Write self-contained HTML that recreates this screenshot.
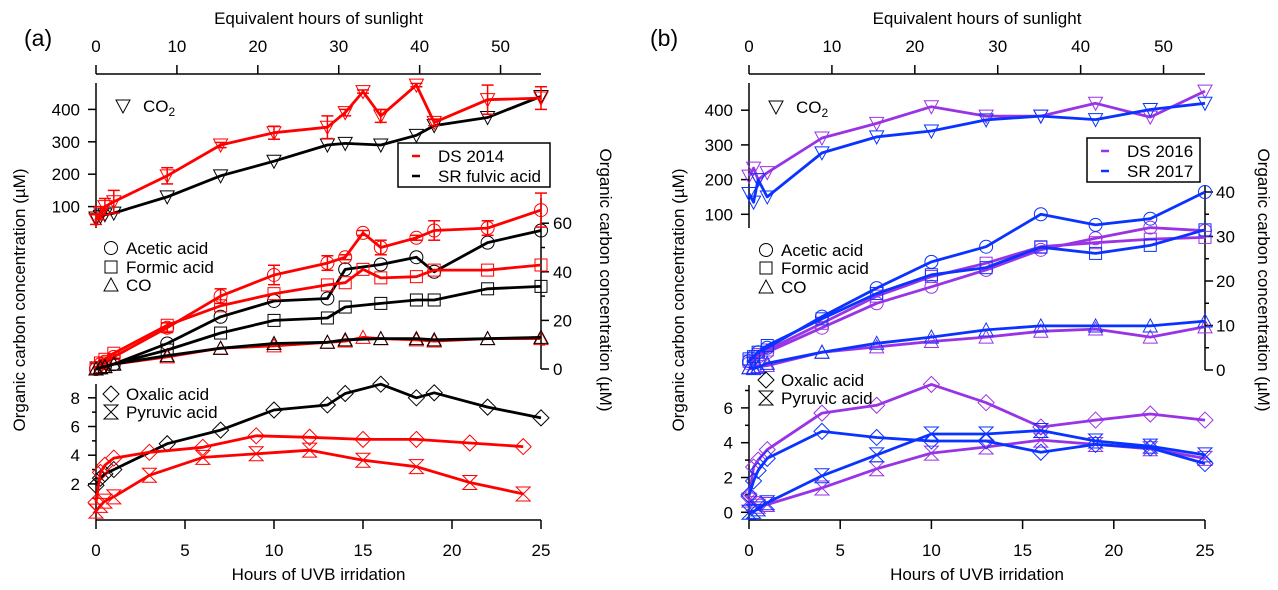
<!DOCTYPE html>
<html><head><meta charset="utf-8"><style>
body{margin:0;background:#fff;}
svg{display:block;font-family:"Liberation Sans",Arial,sans-serif;}
</style></head><body>
<svg id="chart" width="1278" height="590" viewBox="0 0 1278 590" xmlns="http://www.w3.org/2000/svg"></svg>
<script>
// ---------- data: panel (a) ----------
const hoursA = [0,0.25,0.5,1,4,7,10,13,14,15,16,18,19,22,25];
const co2DS2014 = [60,80,100,115,195,290,328,345,390,455,380,475,360,430,435];
const co2DS2014Err = [15,20,25,35,25,8,20,35,10,5,20,5,10,45,35];
const hoursAblk = [0,0.25,0.5,1,4,7,10,13,14,16,18,19,22,25];
const co2SR = [65,70,75,80,130,195,240,290,295,290,320,350,375,440];
const aceticDS2014 = [0,2,3,5,17,30,38.7,43.6,46,56,50,54,57,58,65.4];
const aceticDS2014Err = [0,1,1,1,2,3,4,3,1,1,3,1,4,3,7];
const formicDS2014 = [0.5,2.5,4,6.5,18,26,31,34.6,35.5,41,37.5,38,40.7,40.7,42.8];
const coDS2014 = [0,0.5,1,2,5,8.6,9.5,11,11.5,13,12.5,12,11.5,12.5,12.5];
const aceticSR = [0,0.5,1,2,10.5,21.5,28,29,41,43,46,40,52,57];
const formicSR = [0,0.5,1,2,7.8,14.8,20,21,25.5,27,28.4,28.4,33,34];
const coSR = [0,0.5,1,2,5.5,8.5,10.5,11,12,12.5,12.5,12,12.5,13];
const oxalicSR = [1.9,2.4,2.7,3.0,4.8,5.75,7.15,7.5,8.3,8.95,8.0,8.35,7.35,6.6];
const hoursArd = [0,0.25,0.5,1,3,6,9,12,15,18,21,24];
const oxalicDS2014 = [0.7,2.8,3.3,3.8,4.2,4.55,5.35,5.25,5.1,5.1,4.85,4.6];
const pyruvicDS2014 = [0.1,0.5,0.8,1.1,2.6,3.85,4.1,4.35,3.65,3.2,2.1,1.3];
// ---------- data: panel (b) ----------
const hoursB = [0,0.25,0.5,1,4,7,10,13,16,19,22,25];
const co2DS2016 = [210,233,200,220,320,362,410,383,383,420,380,455];
const co2SR2017 = [160,135,200,150,277,323,340,372,383,373,402,420];
const aceticSR2017 = [2,3,4,5,12,18.4,24.3,27.7,35,32.6,34,40];
const aceticDS2016 = [1.5,2,3,4,9.5,15,18.7,22.5,27,29.6,32,31.3];
const formicSR2017 = [2.5,3,4,5.5,11.5,17.2,21.4,23,27.6,26.2,28,31.5];
const formicDS2016 = [2,2.5,3.5,4.5,10.5,16.6,21,24,27.7,28.6,29.4,29.8];
const coSR2017 = [0.5,0.3,0.6,1.5,4,6,7.4,9,9.9,9.9,9.9,11];
const coDS2016 = [0.5,0.6,0.8,1,4,5.2,6.4,7.4,8.7,9.2,7.4,9.7];
const oxalicDS2016 = [0.9,2.6,3.0,3.6,5.7,6.15,7.35,6.3,4.9,5.3,5.65,5.3];
const oxalicSR2017 = [1.0,1.8,2.4,3.1,4.65,4.3,4.1,4.1,3.45,3.9,3.7,2.8];
const pyruvicSR2017 = [0,0.05,0.2,0.55,2.1,3.3,4.5,4.5,4.7,4.1,3.8,3.3];
const pyruvicDS2016 = [0.7,0.5,0.35,0.45,1.4,2.5,3.4,3.75,4.15,3.9,3.65,3.1];

const NS="http://www.w3.org/2000/svg";
const svg=document.getElementById('chart');
const FS=17;
function mk(tag,attrs,parent){const e=document.createElementNS(NS,tag);for(const k in attrs)e.setAttribute(k,attrs[k]);(parent||svg).appendChild(e);return e;}
function txt(x,y,s,opts,parent){const t=mk('text',Object.assign({x:x,y:y,'font-size':FS,fill:'#000'},opts||{}),parent);t.textContent=s;return t;}

function marker(g,type,x,y,col){
  let e;
  if(type==='circle'){e=mk('circle',{cx:x,cy:y,r:6.5,fill:'none',stroke:col,'stroke-width':1},g);}
  else if(type==='square'){e=mk('rect',{x:x-6,y:y-6,width:12,height:12,fill:'none',stroke:col,'stroke-width':1},g);}
  else if(type==='up'){e=mk('polygon',{points:`${x},${y-7} ${x-7},${y+6} ${x+7},${y+6}`,fill:'none',stroke:col,'stroke-width':1},g);}
  else if(type==='down'){e=mk('polygon',{points:`${x},${y+7} ${x-7},${y-6} ${x+7},${y-6}`,fill:'none',stroke:col,'stroke-width':1},g);}
  else if(type==='diamond'){e=mk('polygon',{points:`${x},${y-8} ${x+8},${y} ${x},${y+8} ${x-8},${y}`,fill:'none',stroke:col,'stroke-width':1},g);}
  else {e=mk('polygon',{points:`${x-7},${y-7} ${x+7},${y-7} ${x-7},${y+7} ${x+7},${y+7}`,fill:'none',stroke:col,'stroke-width':1},g);}
  return e;
}
function series(name,xs,ys,xf,yf,col,type,errs){
  const g=mk('g',{});
  
  
  const pts=xs.map((h,i)=>xf(h).toFixed(1)+','+yf(ys[i]).toFixed(1)).join(' ');
  const pl=mk('polyline',{points:pts,fill:'none',stroke:col,'stroke-width':2.8,'stroke-linejoin':'round'},g);
  
  
  xs.forEach((h,i)=>{
    const x=xf(h),y=yf(ys[i]);
    if(errs&&errs[i]>0){
      const y1=yf(ys[i]+errs[i]),y2=yf(ys[i]-errs[i]);
      mk('line',{x1:x,x2:x,y1:y1,y2:y2,stroke:col,'stroke-width':1.5},g);
      mk('line',{x1:x-6,x2:x+6,y1:y1,y2:y1,stroke:col,'stroke-width':1.5},g);
      mk('line',{x1:x-6,x2:x+6,y1:y2,y2:y2,stroke:col,'stroke-width':1.5},g);
    }
    const m=marker(g,type,x,y,col);
    
    
  });
}
function vAxis(name,x,yTop,yBot,yf,majors,minors,side,labelX){
  const g=mk('g',{});
  
  
  mk('line',{x1:x,x2:x,y1:yTop,y2:yBot,stroke:'#000','stroke-width':1.5},g);
  const d=side==='left'?-8:8;
  majors.forEach(v=>{const y=yf(v);mk('line',{x1:x,x2:x+d,y1:y,y2:y,stroke:'#000','stroke-width':1.5},g);
    txt(labelX,y+6,String(v),{'text-anchor':side==='left'?'end':'start'},g);});
  minors.forEach(v=>{const y=yf(v);mk('line',{x1:x,x2:x+d/2,y1:y,y2:y,stroke:'#000','stroke-width':1.5},g);});
}
function hAxis(name,y,x0,x1,xf,majors,dir,labelY){
  const g=mk('g',{});
  
  
  mk('line',{x1:x0,x2:x1,y1:y,y2:y,stroke:'#000','stroke-width':1.5},g);
  majors.forEach(v=>{const x=xf(v);mk('line',{x1:x,x2:x,y1:y,y2:y+dir*9,stroke:'#000','stroke-width':1.5},g);
    txt(x,labelY,String(v),{'text-anchor':'middle'},g);});
}
function symLegend(name,x,y,type,label){
  const g=mk('g',{});
  
  
  marker(g,type,x,y,'#000');
  txt(x+15,y+6,label,{},g);
}
function co2Legend(name,x,y){
  const g=mk('g',{});
  
  
  marker(g,'down',x,y,'#000');
  const c=mk('text',{x:x+20,y:y+6,'font-size':FS},g);
  c.innerHTML='CO<tspan font-size="12" dy="4">2</tspan>';
}
function boxLegend(name,x,y,w,h,c1,l1,c2,l2){
  const g=mk('g',{});
  
  
  mk('rect',{x:x,y:y,width:w,height:h,fill:'#fff',stroke:'#000','stroke-width':1.5},g);
  mk('line',{x1:x+14,x2:x+22,y1:y+13,y2:y+13,stroke:c1,'stroke-width':2.5},g);
  txt(x+40,y+19,l1,{},g);
  mk('line',{x1:x+14,x2:x+22,y1:y+33,y2:y+33,stroke:c2,'stroke-width':2.5},g);
  txt(x+40,y+39,l2,{},g);
}
function titles(px,lbl,x0,x1,lx,rx,ry){
  const t1=txt(px,46,lbl,{'font-size':23});
  
  
  const t2=txt((x0+x1)/2,24,'Equivalent hours of sunlight',{'text-anchor':'middle'});
  
  
  const t3=txt((x0+x1)/2,580,'Hours of UVB irridation',{'text-anchor':'middle'});
  
  
  const t4=txt(0,0,'Organic carbon concentration (µM)',{'text-anchor':'middle',transform:`translate(${lx},300) rotate(-90)`});
  
  
  const t5=txt(0,0,'Organic carbon concentration (µM)',{'text-anchor':'middle',transform:`translate(${rx},${ry}) rotate(90)`});
  
  
}

// ---------- panel (a) ----------
(function(){
  const x0=96,x1=541;
  const xf=h=>x0+h*(x1-x0)/25;
  const xe=e=>x0+e*(x1-x0)/55;
  const yCO2=v=>239-v*0.324;
  const yMid=v=>369-v*2.43;
  const yBot=v=>512.6-v*14.35;
  titles(24,'(a)',x0,x1,25,600,280);
  hAxis('top-x-axis-a',74,x0,x1,xe,[0,10,20,30,40,50],-1,52);
  vAxis('co2-y-axis-a',x0,83,228,yCO2,[100,200,300,400],[],'left',80);
  vAxis('right-y-axis-a',x1,198,369,yMid,[0,20,40,60],[10,30,50],'right',553);
  vAxis('bottom-y-axis-a',x0,384,520,yBot,[2,4,6,8],[1,3,5,7],'left',80);
  hAxis('bottom-x-axis-a',520,x0,x1,xf,[0,5,10,15,20,25],1,556);
  series('co2-sr-fulvic',hoursAblk,co2SR,xf,yCO2,'#000','down');
  series('co2-ds2014',hoursA,co2DS2014,xf,yCO2,'#ff0000','down',co2DS2014Err);
  series('acetic-sr-fulvic',hoursAblk,aceticSR,xf,yMid,'#000','circle');
  series('formic-sr-fulvic',hoursAblk,formicSR,xf,yMid,'#000','square');
  series('acetic-ds2014',hoursA,aceticDS2014,xf,yMid,'#ff0000','circle',aceticDS2014Err);
  series('formic-ds2014',hoursA,formicDS2014,xf,yMid,'#ff0000','square');
  series('co-ds2014',hoursA,coDS2014,xf,yMid,'#ff0000','up');
  series('co-sr-fulvic',hoursAblk,coSR,xf,yMid,'#000','up');
  series('oxalic-sr-fulvic',hoursAblk,oxalicSR,xf,yBot,'#000','diamond');
  series('oxalic-ds2014',hoursArd,oxalicDS2014,xf,yBot,'#ff0000','diamond');
  series('pyruvic-ds2014',hoursArd,pyruvicDS2014,xf,yBot,'#ff0000','hour');
  boxLegend('legend-a',398,143,152,44,'#ff0000','DS 2014','#000','SR fulvic acid');
  co2Legend('legend-co2-a',123,106);
  symLegend('legend-acetic-a',111,248,'circle','Acetic acid');
  symLegend('legend-formic-a',111,267,'square','Formic acid');
  symLegend('legend-co-a',111,285,'up','CO');
  symLegend('legend-oxalic-a',111,394,'diamond','Oxalic acid');
  symLegend('legend-pyruvic-a',111,412,'hour','Pyruvic acid');
})();

// ---------- panel (b) ----------
(function(){
  const x0=749,x1=1205;
  const xf=h=>x0+h*(x1-x0)/25;
  const xe=e=>x0+e*(x1-x0)/55;
  const yCO2=v=>249-v*0.347;
  const yMid=v=>370-v*4.45;
  const yBot=v=>512.3-v*17.4;
  titles(650,'(b)',x0,x1,684,1258,280);
  hAxis('top-x-axis-b',74,x0,x1,xe,[0,10,20,30,40,50],-1,52);
  vAxis('co2-y-axis-b',x0,83,228,yCO2,[100,200,300,400],[],'left',733);
  vAxis('right-y-axis-b',x1,185,370,yMid,[0,10,20,30,40],[5,15,25,35],'right',1216);
  vAxis('bottom-y-axis-b',x0,385,520,yBot,[0,2,4,6],[1,3,5,7],'left',733);
  hAxis('bottom-x-axis-b',520,x0,x1,xf,[0,5,10,15,20,25],1,556);
  const P='#9933e6',B='#0a33ff';
  series('co2-ds2016',hoursB,co2DS2016,xf,yCO2,P,'down');
  series('co2-sr2017',hoursB,co2SR2017,xf,yCO2,B,'down');
  series('acetic-ds2016',hoursB,aceticDS2016,xf,yMid,P,'circle');
  series('formic-ds2016',hoursB,formicDS2016,xf,yMid,P,'square');
  series('co-ds2016',hoursB,coDS2016,xf,yMid,P,'up');
  series('acetic-sr2017',hoursB,aceticSR2017,xf,yMid,B,'circle');
  series('formic-sr2017',hoursB,formicSR2017,xf,yMid,B,'square');
  series('co-sr2017',hoursB,coSR2017,xf,yMid,B,'up');
  series('oxalic-ds2016',hoursB,oxalicDS2016,xf,yBot,P,'diamond');
  series('pyruvic-ds2016',hoursB,pyruvicDS2016,xf,yBot,P,'hour');
  series('oxalic-sr2017',hoursB,oxalicSR2017,xf,yBot,B,'diamond');
  series('pyruvic-sr2017',hoursB,pyruvicSR2017,xf,yBot,B,'hour');
  boxLegend('legend-b',1087,138,113,44,P,'DS 2016',B,'SR 2017');
  co2Legend('legend-co2-b',776,107);
  symLegend('legend-acetic-b',766,250,'circle','Acetic acid');
  symLegend('legend-formic-b',766,268,'square','Formic acid');
  symLegend('legend-co-b',766,287,'up','CO');
  symLegend('legend-oxalic-b',766,380,'diamond','Oxalic acid');
  symLegend('legend-pyruvic-b',766,398,'hour','Pyruvic acid');
})();
</script>
</body></html>
